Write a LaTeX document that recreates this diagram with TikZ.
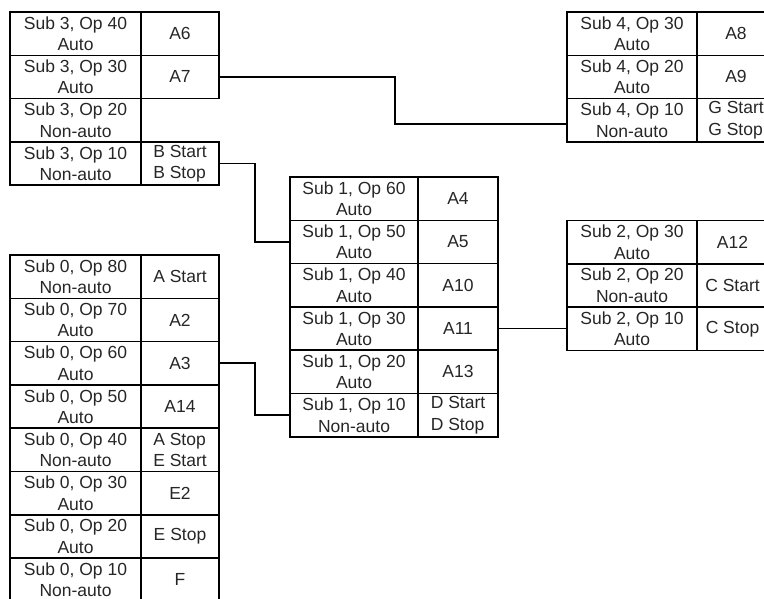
\documentclass[tikz,border=0pt]{standalone}
\usepackage{fontspec}
\setmainfont{Liberation Sans}
\begin{document}
\begin{tikzpicture}[x=1pt,y=-1pt,
  cell/.style={draw=black, line width=1.6pt, inner sep=0pt, minimum height=43.3pt,
    font=\fontsize{17.5}{21.5}\selectfont, text=black!85},
  lcell/.style={cell, align=center},
  rcell/.style={cell, align=left},
  conn/.style={draw=black, line width=1.6pt}]
\useasboundingbox (0,0) rectangle (764,598);
\clip (0,0) rectangle (764,598);
% ---- Sub 3 ----
\node[lcell, minimum width=131pt] (s3r1a) at (75.5,33.65) {Sub 3, Op 40\\Auto};
\node[rcell, minimum width=78pt]  (s3r1b) at (180,33.65) {A6};
\node[lcell, minimum width=131pt] (s3r2a) at (75.5,76.95) {Sub 3, Op 30\\Auto};
\node[rcell, minimum width=78pt]  (s3r2b) at (180,76.95) {A7};
\node[lcell, minimum width=131pt] (s3r3a) at (75.5,120.25) {Sub 3, Op 20\\Non-auto};
\node[lcell, minimum width=131pt] (s3r4a) at (75.5,163.55) {Sub 3, Op 10\\Non-auto};
\node[rcell, minimum width=78pt]  (s3r4b) at (180,163.55) {B Start\\B Stop};
% ---- Sub 4 ----
\node[lcell, minimum width=130pt] (s4r1a) at (632,33.65) {Sub 4, Op 30\\Auto};
\node[rcell, minimum width=78pt]  (s4r1b) at (736,33.65) {A8};
\node[lcell, minimum width=130pt] (s4r2a) at (632,76.95) {Sub 4, Op 20\\Auto};
\node[rcell, minimum width=78pt]  (s4r2b) at (736,76.95) {A9};
\node[lcell, minimum width=130pt] (s4r3a) at (632,120.25) {Sub 4, Op 10\\Non-auto};
\node[rcell, minimum width=78pt]  (s4r3b) at (736,120.25) {G Start\\G Stop};
% ---- Sub 1 ----
\node[lcell, minimum width=128pt] (s1r1a) at (354,198.65) {Sub 1, Op 60\\Auto};
\node[rcell, minimum width=80pt]  (s1r1b) at (458,198.65) {A4};
\node[lcell, minimum width=128pt] (s1r2a) at (354,241.95) {Sub 1, Op 50\\Auto};
\node[rcell, minimum width=80pt]  (s1r2b) at (458,241.95) {A5};
\node[lcell, minimum width=128pt] (s1r3a) at (354,285.25) {Sub 1, Op 40\\Auto};
\node[rcell, minimum width=80pt]  (s1r3b) at (458,285.25) {A10};
\node[lcell, minimum width=128pt] (s1r4a) at (354,328.55) {Sub 1, Op 30\\Auto};
\node[rcell, minimum width=80pt]  (s1r4b) at (458,328.55) {A11};
\node[lcell, minimum width=128pt] (s1r5a) at (354,371.85) {Sub 1, Op 20\\Auto};
\node[rcell, minimum width=80pt]  (s1r5b) at (458,371.85) {A13};
\node[lcell, minimum width=128pt] (s1r6a) at (354,415.15) {Sub 1, Op 10\\Non-auto};
\node[rcell, minimum width=80pt]  (s1r6b) at (458,415.15) {D Start\\D Stop};
% ---- Sub 2 ----
\node[lcell, minimum width=130pt] (s2r1a) at (632,242.15) {Sub 2, Op 30\\Auto};
\node[rcell, minimum width=71pt]  (s2r1b) at (732.5,242.15) {A12};
\node[lcell, minimum width=130pt] (s2r2a) at (632,285.45) {Sub 2, Op 20\\Non-auto};
\node[rcell, minimum width=71pt]  (s2r2b) at (732.5,285.45) {C Start};
\node[lcell, minimum width=130pt] (s2r3a) at (632,328.75) {Sub 2, Op 10\\Auto};
\node[rcell, minimum width=71pt]  (s2r3b) at (732.5,328.75) {C Stop};
% ---- Sub 0 ----
\node[lcell, minimum width=131pt] (s0r1a) at (75.5,276.65) {Sub 0, Op 80\\Non-auto};
\node[rcell, minimum width=78pt]  (s0r1b) at (180,276.65) {A Start};
\node[lcell, minimum width=131pt] (s0r2a) at (75.5,319.95) {Sub 0, Op 70\\Auto};
\node[rcell, minimum width=78pt]  (s0r2b) at (180,319.95) {A2};
\node[lcell, minimum width=131pt] (s0r3a) at (75.5,363.25) {Sub 0, Op 60\\Auto};
\node[rcell, minimum width=78pt]  (s0r3b) at (180,363.25) {A3};
\node[lcell, minimum width=131pt] (s0r4a) at (75.5,406.55) {Sub 0, Op 50\\Auto};
\node[rcell, minimum width=78pt]  (s0r4b) at (180,406.55) {A14};
\node[lcell, minimum width=131pt] (s0r5a) at (75.5,449.85) {Sub 0, Op 40\\Non-auto};
\node[rcell, minimum width=78pt]  (s0r5b) at (180,449.85) {A Stop\\E Start};
\node[lcell, minimum width=131pt] (s0r6a) at (75.5,493.15) {Sub 0, Op 30\\Auto};
\node[rcell, minimum width=78pt]  (s0r6b) at (180,493.15) {E2};
\node[lcell, minimum width=131pt] (s0r7a) at (75.5,536.45) {Sub 0, Op 20\\Auto};
\node[rcell, minimum width=78pt]  (s0r7b) at (180,536.45) {E Stop};
\node[lcell, minimum width=131pt] (s0r8a) at (75.5,579.75) {Sub 0, Op 10\\Non-auto};
\node[rcell, minimum width=78pt]  (s0r8b) at (180,579.75) {F};
% ---- connectors ----
\draw[conn] (s3r2b.east) -| (395,124) -- (s4r3a.west |- 0,124);
\draw[conn] (s3r4b.east) -- ++(35,0) |- (s1r2a.west);
\draw[conn] (s0r3b.east) -- ++(35,0) |- (s1r6a.west);
\draw[conn] (s1r4b.east) -- (s2r3a.west |- s1r4b.east);
\end{tikzpicture}
\end{document}
